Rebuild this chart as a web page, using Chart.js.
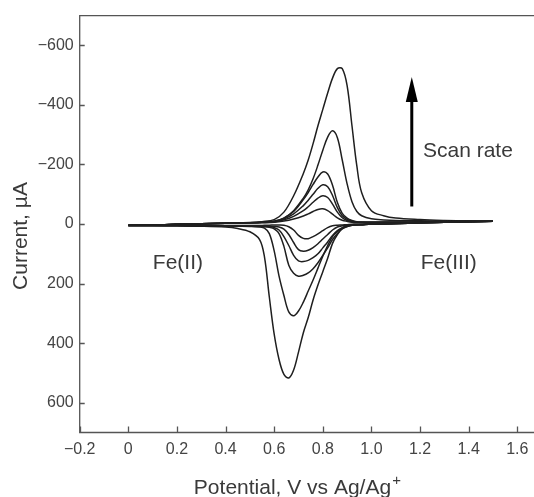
<!DOCTYPE html>
<html>
<head>
<meta charset="utf-8">
<script src="https://cdn.jsdelivr.net/npm/chart.js@4.4.1/dist/chart.umd.min.js"></script>
<style>
  html, body { margin: 0; padding: 0; overflow: hidden; background: #fff; }
  canvas { display: block; }
</style>
</head>
<body>
<canvas id="cvChart" width="546" height="497"></canvas>
<script>
// potential grid, V vs Ag/Ag+ (forward sweep up to 1.5 V, then back to 0)
const forwardPotential = [0, 0.1, 0.2, 0.3, 0.4, 0.5, 0.55, 0.6, 0.64, 0.68, 0.72, 0.74, 0.76, 0.78, 0.8, 0.82, 0.84, 0.86, 0.88, 0.9, 0.92, 0.94, 0.96, 1.0, 1.05, 1.1, 1.2, 1.3, 1.4, 1.5];
const reversePotential = [1.5, 1.4, 1.3, 1.2, 1.1, 1.0, 0.96, 0.92, 0.9, 0.88, 0.86, 0.84, 0.82, 0.8, 0.78, 0.76, 0.74, 0.72, 0.7, 0.68, 0.66, 0.64, 0.62, 0.6, 0.58, 0.56, 0.54, 0.5, 0.45, 0.4, 0.3, 0.2, 0.1, 0];

// current, µA, slowest scan first
const forwardCurrent1 = [4, 3, 1, -1, -3, -4, -5, -6, -10, -17, -27, -34, -42, -49, -51, -45, -33, -21, -13, -9, -6, -5, -5, -5, -6, -6, -7, -8, -9, -9];
const reverseCurrent1 = [-9, -8, -6, -4, -2, 0, 1, 1, 2, 3, 4, 6, 12, 22, 33, 42, 49, 48, 38, 20, 9, 4, 3, 3, 4, 4, 5, 5, 5, 5, 5, 5, 5, 5];

const forwardCurrent2 = [4, 3, 1, -1, -3, -4, -5, -7, -14, -26, -45, -58, -73, -87, -95, -89, -67, -40, -21, -12, -8, -6, -6, -6, -6, -6, -7, -8, -9, -9];
const reverseCurrent2 = [-9, -8, -6, -4, -2, 0, 1, 2, 4, 6, 10, 20, 35, 50, 66, 79, 88, 91, 86, 62, 35, 17, 10, 8, 7, 7, 6, 6, 6, 6, 5, 5, 5, 5];

const forwardCurrent3 = [4, 3, 1, -1, -3, -4, -5, -8, -17, -34, -62, -80, -100, -120, -132, -125, -96, -55, -28, -16, -10, -7, -6, -6, -6, -6, -7, -8, -9, -9];
const reverseCurrent3 = [-9, -8, -6, -4, -2, 0, 2, 3, 6, 12, 22, 38, 60, 80, 100, 113, 122, 126, 124, 105, 72, 42, 20, 12, 9, 8, 7, 7, 6, 6, 6, 5, 5, 5];

const forwardCurrent4 = [4, 3, 1, -1, -3, -4, -6, -9, -20, -42, -82, -106, -133, -158, -175, -168, -130, -72, -36, -20, -12, -8, -7, -6, -6, -6, -7, -8, -9, -9];
const reverseCurrent4 = [-9, -8, -6, -4, -2, 0, 2, 4, 8, 16, 32, 52, 80, 105, 130, 150, 164, 172, 175, 165, 138, 75, 32, 16, 11, 9, 8, 7, 6, 6, 6, 5, 5, 5];

const forwardCurrent5 = [4, 3, 1, -1, -3, -4, -6, -10, -20, -45, -87, -115, -152, -198, -248, -292, -313, -290, -215, -135, -75, -42, -28, -18, -14, -12, -11, -10, -9, -9];
const reverseCurrent5 = [-9, -8, -6, -4, -2, 0, 2, 4, 7, 14, 25, 42, 72, 108, 148, 188, 225, 262, 292, 308, 295, 240, 175, 90, 32, 14, 10, 8, 7, 6, 6, 5, 5, 5];

const forwardCurrent6 = [4, 3, 1, -1, -3, -5, -8, -15, -40, -95, -170, -215, -270, -330, -385, -440, -490, -522, -522, -465, -330, -195, -105, -45, -28, -20, -15, -12, -10, -9];
const reverseCurrent6 = [-9, -8, -6, -4, -2, 0, 2, 4, 8, 15, 35, 65, 115, 160, 205, 255, 314, 365, 430, 490, 517, 505, 455, 370, 245, 110, 52, 26, 15, 10, 7, 6, 5, 5];

const xTicks = [-0.2, 0, 0.2, 0.4, 0.6, 0.8, 1.0, 1.2, 1.4, 1.6];
const yTicks = [-600, -400, -200, 0, 200, 400, 600];

const curves = [
    [forwardCurrent1, reverseCurrent1],
    [forwardCurrent2, reverseCurrent2],
    [forwardCurrent3, reverseCurrent3],
    [forwardCurrent4, reverseCurrent4],
    [forwardCurrent5, reverseCurrent5],
    [forwardCurrent6, reverseCurrent6],
];

// text labels placed in data coordinates
const notes = [
    { text: 'Fe(II)', x: 0.204, y: 151, align: 'center' },
    { text: 'Fe(III)', x: 1.318, y: 151, align: 'center' },
    { text: 'Scan rate', x: 1.212, y: -226, align: 'left' },
];
const arrow = { x: 1.166, from: -59, to: -494 };

const textColor = '#3a3a3a';
const fontFamily = '"Liberation Sans", Arial, sans-serif';

function loop(fwd, rev) {
    const out = forwardPotential.map((e, i) => ({ x: e, y: fwd[i] }));
    return out.concat(reversePotential.map((e, i) => ({ x: e, y: rev[i] })));
}

function minus(s) {
    return s.replace('-', '\u2212');
}

const framePlugin = {
    id: 'frame',
    afterDraw(chart) {
        const { ctx, chartArea: a, scales: { x, y } } = chart;
        ctx.save();

        // box and inward ticks
        ctx.strokeStyle = '#555';
        ctx.lineWidth = 1.3;
        ctx.beginPath();
        ctx.moveTo(a.right, a.top);
        ctx.lineTo(a.left, a.top);
        ctx.lineTo(a.left, a.bottom);
        ctx.lineTo(a.right, a.bottom);
        ctx.lineTo(a.right, a.top);
        xTicks.forEach(v => {
            const px = Math.round(x.getPixelForValue(v)) + 0.5;
            ctx.moveTo(px, a.bottom);
            ctx.lineTo(px, a.bottom - 6);
        });
        yTicks.forEach(v => {
            const py = Math.round(y.getPixelForValue(v)) + 0.5;
            ctx.moveTo(a.left, py);
            ctx.lineTo(a.left + 5, py);
        });
        ctx.stroke();

        // axis titles
        ctx.fillStyle = textColor;
        ctx.font = '21px ' + fontFamily;
        ctx.textBaseline = 'alphabetic';
        const main = 'Potential, V vs Ag/Ag';
        const w = ctx.measureText(main).width;
        const cx = x.getPixelForValue(0.7);
        ctx.textAlign = 'left';
        ctx.fillText(main, cx - w / 2 - 6, 494);
        ctx.font = '15px ' + fontFamily;
        ctx.fillText('+', cx + w / 2 - 5, 485);

        ctx.save();
        ctx.translate(27, 236);
        ctx.rotate(-Math.PI / 2);
        ctx.font = '21px ' + fontFamily;
        ctx.textAlign = 'center';
        ctx.fillText('Current, \u00b5A', 0, 0);
        ctx.restore();

        // annotations
        ctx.font = '21px ' + fontFamily;
        notes.forEach(n => {
            ctx.textAlign = n.align;
            ctx.fillText(n.text, x.getPixelForValue(n.x), y.getPixelForValue(n.y));
        });

        // arrow
        const ax = x.getPixelForValue(arrow.x);
        const y0 = y.getPixelForValue(arrow.from);
        const y1 = y.getPixelForValue(arrow.to);
        ctx.strokeStyle = '#000';
        ctx.fillStyle = '#000';
        ctx.lineWidth = 3;
        ctx.beginPath();
        ctx.moveTo(ax, y0);
        ctx.lineTo(ax, y1 + 20);
        ctx.stroke();
        ctx.beginPath();
        ctx.moveTo(ax, y1);
        ctx.lineTo(ax - 6, y1 + 25);
        ctx.lineTo(ax + 6, y1 + 25);
        ctx.closePath();
        ctx.fill();

        ctx.restore();
    }
};

const ctx = document.getElementById('cvChart').getContext('2d');
new Chart(ctx, {
    type: 'scatter',
    data: {
        datasets: curves.map(c => ({
            data: loop(c[0], c[1]),
            showLine: true,
            borderColor: '#1f1f1f',
            borderWidth: 1.5,
            pointRadius: 0,
            tension: 0.35,
            fill: false
        }))
    },
    options: {
        responsive: false,
        animation: false,
        layout: { padding: { top: 13, right: 4.4, left: 0, bottom: 0 } },
        plugins: { legend: { display: false }, tooltip: { enabled: false } },
        scales: {
            x: {
                type: 'linear',
                min: -0.2,
                max: 1.7,
                afterBuildTicks: s => { s.ticks = xTicks.map(v => ({ value: v })); },
                afterFit: s => { s.height = 64.5; },
                grid: { display: false, drawTicks: false },
                border: { display: false },
                ticks: {
                    padding: 7,
                    color: '#444',
                    font: { family: fontFamily, size: 16 },
                    callback: v => v === 0 ? '0' : minus(v.toFixed(1))
                }
            },
            y: {
                reverse: true,
                min: -700,
                max: 700,
                afterBuildTicks: s => { s.ticks = yTicks.map(v => ({ value: v })); },
                afterFit: s => { s.width = 79.7; },
                grid: { display: false, drawTicks: false },
                border: { display: false },
                ticks: {
                    padding: 6,
                    color: '#444',
                    font: { family: fontFamily, size: 16 },
                    callback: v => minus(String(v))
                }
            }
        }
    },
    plugins: [framePlugin]
});
</script>
</body>
</html>
